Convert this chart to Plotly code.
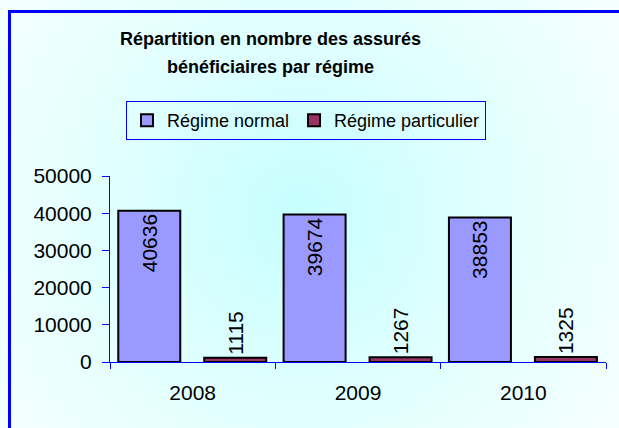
import base64
import plotly.graph_objects as go

years = ["2008", "2009", "2010"]
regime_normal = [40636, 39674, 38853]
regime_particulier = [1115, 1267, 1325]
series_names = ["Régime normal", "Régime particulier"]
title_lines = ["Répartition en nombre des assurés", "bénéficiaires par régime"]

W, H = 619, 428
L, R, T, B = 110, 13, 176, 66
pw, ph = W - L - R, H - T - B

def px_x(px):
    return (px - L) / pw

def px_y(py):
    return (H - B - py) / ph

FONT = "Arial, Liberation Sans, sans-serif"

svg = (
    '<svg xmlns="http://www.w3.org/2000/svg" width="619" height="428" viewBox="0 0 619 428">'
    '<defs><radialGradient id="g" cx="300" cy="215" r="360" gradientUnits="userSpaceOnUse">'
    '<stop offset="0" stop-color="#C6FEFE"/><stop offset="0.55" stop-color="#E2FFFF"/>'
    '<stop offset="1" stop-color="#F4FFFF"/></radialGradient></defs>'
    '<rect x="0" y="0" width="619" height="428" fill="url(#g)"/></svg>'
)
bg_src = "data:image/svg+xml;base64," + base64.b64encode(svg.encode()).decode()

fig = go.Figure()
fig.add_trace(go.Bar(
    x=years, y=regime_normal, name=series_names[0],
    marker=dict(color="#9999FF", line=dict(color="#000000", width=2)),
    width=0.375, offset=-0.45,
    text=[str(v) for v in regime_normal], textposition="inside",
    insidetextanchor="end", textangle=-90, constraintext="none",
    textfont=dict(family=FONT, size=21, color="#000000"),
    cliponaxis=False,
))
fig.add_trace(go.Bar(
    x=years, y=regime_particulier, name=series_names[1],
    marker=dict(color="#993366", line=dict(color="#000000", width=2)),
    width=0.375, offset=0.07,
    text=[str(v) for v in regime_particulier], textposition="outside",
    textangle=-90, constraintext="none",
    textfont=dict(family=FONT, size=21, color="#000000"),
    cliponaxis=False,
))

annotations = [
    dict(text=f"<b>{title_lines[0]}</b>", xref="paper", yref="paper",
         x=px_x(270), y=px_y(39), xanchor="center", yanchor="middle", showarrow=False,
         font=dict(family=FONT, size=18, color="#000000")),
    dict(text=f"<b>{title_lines[1]}</b>", xref="paper", yref="paper",
         x=px_x(270), y=px_y(67), xanchor="center", yanchor="middle", showarrow=False,
         font=dict(family=FONT, size=18, color="#000000")),
]

fig.update_layout(
    width=W, height=H,
    margin=dict(l=L, r=R, t=T, b=B, pad=0),
    paper_bgcolor="#F4FFFF",
    plot_bgcolor="rgba(0,0,0,0)",
    font=dict(family=FONT, size=21, color="#000000"),
    barmode="group",
    annotations=annotations,
    legend=dict(orientation="h", x=px_x(126), y=px_y(101), xanchor="left", yanchor="top",
                bordercolor="#0000FF", borderwidth=1, bgcolor="rgba(0,0,0,0)",
                font=dict(family=FONT, size=18, color="#000000"),
                itemwidth=30, traceorder="normal"),
    xaxis=dict(showline=True, linecolor="#0000FF", linewidth=1, ticks="outside",
               tickson="boundaries", ticklen=6, tickcolor="#0000FF",
               showgrid=False, zeroline=False,
               tickfont=dict(family=FONT, size=21, color="#000000"),
               ticklabelstandoff=12),
    yaxis=dict(range=[0, 50000], tickvals=[0, 10000, 20000, 30000, 40000, 50000],
               ticktext=["0", "10000", "20000", "30000", "40000", "50000"],
               showline=True, linecolor="#0000FF", linewidth=1, ticks="outside",
               ticklen=7, tickcolor="#0000FF", showgrid=False, zeroline=False,
               tickfont=dict(family=FONT, size=21, color="#000000"),
               ticklabelstandoff=6),
    images=[dict(source=bg_src, xref="paper", yref="paper",
                 x=px_x(0), y=px_y(0), sizex=W / pw, sizey=H / ph,
                 xanchor="left", yanchor="top", sizing="stretch", layer="below")],
    shapes=[dict(type="rect", xref="paper", yref="paper",
                 x0=px_x(9.5), x1=px_x(660), y0=px_y(11.5), y1=px_y(470),
                 line=dict(color="#0000FF", width=3), fillcolor="rgba(0,0,0,0)",
                 layer="above")],
)

fig.write_html("out.html", config={"displayModeBar": False},
               post_script="document.body.style.margin='0';")
